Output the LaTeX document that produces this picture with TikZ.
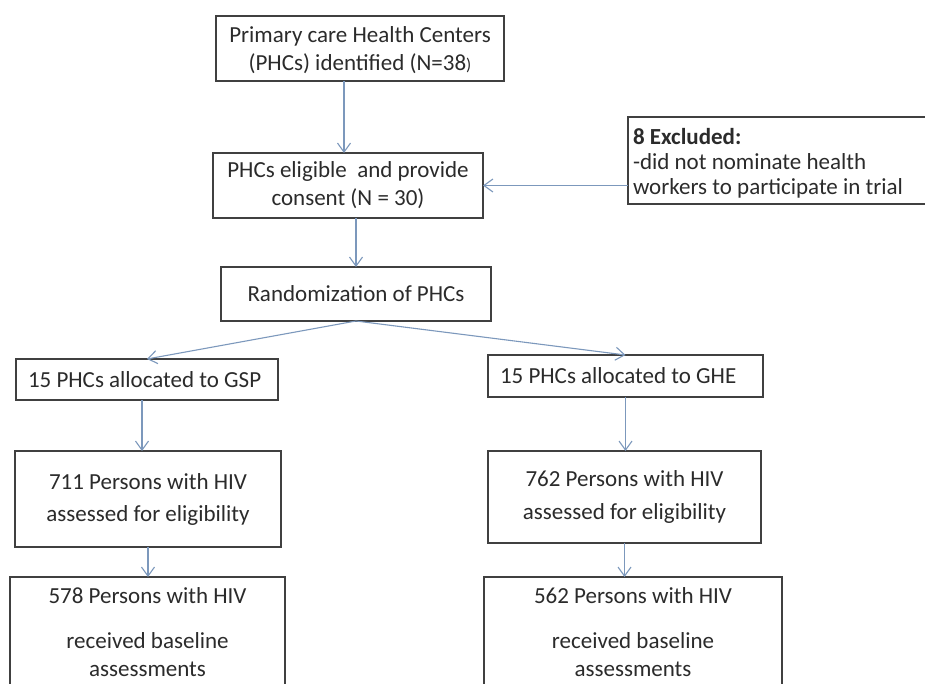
\documentclass[tikz,border=0pt]{standalone}
\usepackage{fontspec}
\setmainfont{Carlito}
\usetikzlibrary{arrows.meta}
\definecolor{txt}{HTML}{2B2B2B}
\definecolor{edge}{HTML}{404040}
\definecolor{arrowc}{HTML}{7C98BC}
\begin{document}
\begin{tikzpicture}[x=1pt,y=-1pt,
  box/.style={draw=edge, line width=1.4pt, text=txt, inner sep=0pt, outer sep=0pt,
    align=center, font=\fontsize{23}{28}\selectfont},
  arr/.style={draw=arrowc, line width=1.1pt, -{Straight Barb[length=9pt,width=13pt]}}]
\fill[white] (0,0) rectangle (925,684);
\useasboundingbox (0,0) rectangle (925,684);
\node[box, minimum width=288pt, minimum height=65pt] (b1) at (360,48.5)
  {\raisebox{-8.5pt}[0pt][0pt]{\begin{tabular}{@{}c@{}}Primary care Health Centers\\(PHCs) identified (N=38{\fontsize{17}{20}\selectfont )}\end{tabular}}};
\node[box, minimum width=270pt, minimum height=65pt] (b2) at (348,185.5)
  {PHCs eligible\ \ and provide\\consent (N = 30)};
\node[box, minimum width=270pt, minimum height=54pt] (rand) at (356,294)
  {Randomization of PHCs};
\node[box, anchor=west, minimum height=87pt, minimum width=317pt, inner xsep=5pt, align=left,
  font=\fontsize{23}{25}\selectfont] (excl) at (628,160.5)
  {\raisebox{-10.5pt}[0pt][0pt]{\begin{tabular}{@{}l@{}}\makebox[307pt][l]{\textbf{8 Excluded:}}\\-did not nominate health\\workers to participate in trial\end{tabular}}};
\node[box, minimum height=41pt, inner xsep=12pt] (gsp) at (147,379.5)
  {\makebox[238pt][l]{15 PHCs allocated to GSP}};
\node[box, minimum height=42pt, inner xsep=12pt] (ghe) at (625.5,376)
  {\makebox[251pt][l]{15 PHCs allocated to GHE}};
\node[box, minimum width=266pt, minimum height=96pt, font=\fontsize{23}{32}\selectfont] (b711) at (148,499)
  {711 Persons with HIV\\assessed for eligibility};
\node[box, minimum width=273pt, minimum height=92pt, font=\fontsize{23}{33}\selectfont] (b762) at (624.5,497)
  {762 Persons with HIV\\assessed for eligibility};
\node[box, minimum width=275pt, minimum height=110pt] (b578) at (147.5,632)
  {578 Persons with HIV\\[17pt]received baseline\\assessments};
\node[box, minimum width=298pt, minimum height=110pt] (b562) at (633,632)
  {562 Persons with HIV\\[17pt]received baseline\\assessments};
\draw[arr] ([xshift=-4pt]b2.north |- b1.south) -- ([xshift=-4pt]b2.north);
\draw[arr] (rand.north |- b2.south) -- (rand.north);
\draw[arr] (excl.west |- b2.east) -- (b2.east);
\draw[arr] (rand.south) -- (gsp.north);
\draw[arr] (rand.south) -- (ghe.north);
\draw[arr] ([xshift=-5pt]gsp.south) -- ([xshift=-5pt]gsp.south |- b711.north);
\draw[arr] (b711.south) -- (b711.south |- b578.north);
\draw[arr] (ghe.south) -- (ghe.south |- b762.north);
\draw[arr] (b762.south) -- (b762.south |- b562.north);
\end{tikzpicture}
\end{document}
